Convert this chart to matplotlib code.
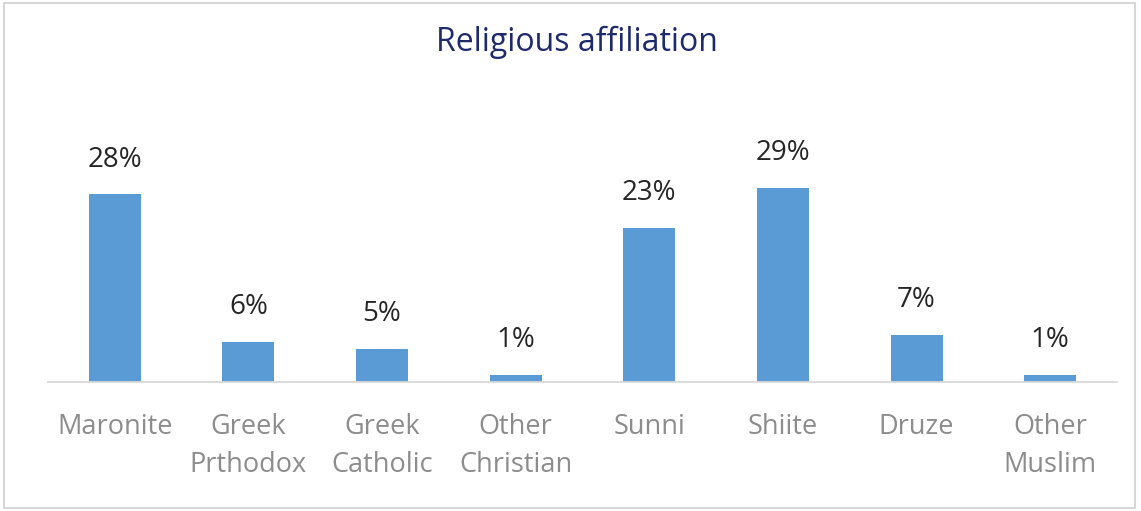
import matplotlib
matplotlib.use("Agg")
import matplotlib.pyplot as plt
from matplotlib.patches import Rectangle

categories = ["Maronite", "Greek\nPrthodox", "Greek\nCatholic", "Other\nChristian",
              "Sunni", "Shiite", "Druze", "Other\nMuslim"]
shares = [28, 6, 5, 1, 23, 29, 7, 1]
value_labels = ["28%", "6%", "5%", "1%", "23%", "29%", "7%", "1%"]
title = "Religious affiliation"

W, H, DPI = 1141, 511, 100
plt.rcParams["font.family"] = ["Open Sans", "DejaVu Sans"]

fig = plt.figure(figsize=(W / DPI, H / DPI), dpi=DPI)
fig.patch.set_facecolor("white")

# axes placed in pixel terms: baseline at y=382, plot width 48..1117
px_per_unit = 6.7
top_px = 100
left, right, base = 48, 1117, 382
ax = fig.add_axes([left / W, (H - base) / H, (right - left) / W, (base - top_px) / H])
ax.set_ylim(0, (base - top_px) / px_per_unit)
ax.set_xlim(-0.5, len(categories) - 0.5)

x = range(len(categories))
bars = ax.bar(x, shares, width=0.39, color="#5B9BD5", zorder=2)

for xi, v, lab in zip(x, shares, value_labels):
    ax.annotate(lab, (xi, v), xytext=(0, 15), textcoords="offset points",
                ha="center", va="bottom", fontsize=20, color="#262626")

for s in ["top", "right", "left"]:
    ax.spines[s].set_visible(False)
ax.spines["bottom"].set_color("#D9D9D9")
ax.spines["bottom"].set_linewidth(1.3)
ax.set_yticks([])
ax.set_xticks(list(x))
ax.set_xticklabels(categories, fontsize=19.5, color="#8C8C8C", linespacing=1.5)
ax.tick_params(axis="x", length=0, pad=22)

fig.text(577 / W, 1 - 42 / H, title, ha="center", va="center",
         fontsize=23, color="#1F2A6B")

# outer light-gray frame
fig.patches.append(Rectangle((4 / W, 3 / H), (1135 - 4) / W, (508 - 3) / H,
                             transform=fig.transFigure, fill=False,
                             edgecolor="#D0D0D0", linewidth=1.2))

fig.savefig("out.png", dpi=DPI)
